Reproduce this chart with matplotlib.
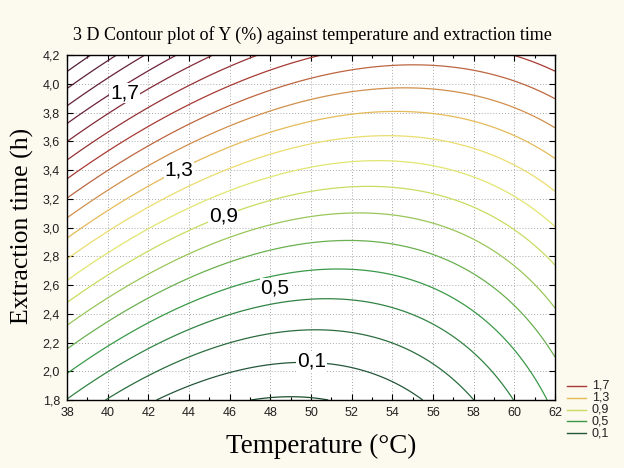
import numpy as np
import matplotlib
matplotlib.use("Agg")
import matplotlib.pyplot as plt
from matplotlib.colors import LinearSegmentedColormap, Normalize
from matplotlib.lines import Line2D
from matplotlib.ticker import MultipleLocator, FuncFormatter

# ------------------------------------------------------------------
# Response surface
#   Y = b0 + b1*T + b2*t + b11*T^2 + b22*t^2 + b12*T*t
# ------------------------------------------------------------------
b0, b1, b2 = 5.853, -0.3009, 1.0894
b11, b22, b12 = 0.0034, 0.0885, -0.01775

temp_range = [38, 62]      # Temperature (C)
time_range = [1.8, 4.2]    # Extraction time (h)

# contour levels drawn (three lines per legend step)
line_levels = [-0.0333, 0.1, 0.2333, 0.3667, 0.5, 0.6333, 0.7667, 0.9,
               1.0333, 1.1667, 1.3, 1.4333, 1.5667, 1.7, 1.8333, 1.9667,
               2.1, 2.2333, 2.3667, 2.5, 2.6333]
legend_levels = [1.7, 1.3, 0.9, 0.5, 0.1]
# where statistica put the level labels (temperature, time)
label_spots = [(40.83, 3.937), (43.51, 3.403), (45.69, 3.081), (48.23, 2.579), (50.03, 2.068)]

# colour ramp: dark green -> green -> yellow -> orange -> dark red -> maroon
ramp_levels = [-0.1, 0.1, 0.5, 0.9, 1.1, 1.3, 1.7, 2.1, 2.7]
ramp_colors = ["#1a4a2a", "#24573a", "#3a9a48", "#c8dc60", "#eeec78",
               "#e6bc58", "#a83a34", "#6e2238", "#441a3a"]

plt.rcParams['font.family'] = ['Liberation Sans', 'DejaVu Sans']

lo, hi = ramp_levels[0], ramp_levels[-1]
cmap = LinearSegmentedColormap.from_list(
    "stat", [((v - lo) / (hi - lo), c) for v, c in zip(ramp_levels, ramp_colors)])
norm = Normalize(lo, hi)

T = np.linspace(temp_range[0], temp_range[1], 300)
t = np.linspace(time_range[0], time_range[1], 300)
TT, tt = np.meshgrid(T, t)
Y = b0 + b1 * TT + b2 * tt + b11 * TT ** 2 + b22 * tt ** 2 + b12 * TT * tt

fig = plt.figure(figsize=(6.24, 4.68), dpi=100, facecolor="#fcf9ee")
ax = fig.add_axes([67 / 624, 1 - 400 / 468, 488 / 624, 345 / 468])
ax.set_facecolor("white")

ax.contour(TT, tt, Y, levels=line_levels,
           colors=[cmap(norm(v)) for v in line_levels], linewidths=0.9)

fmt = lambda v: f"{v:.1f}".replace(".", ",")
for lev, (x, y) in zip(legend_levels, label_spots):
    ax.text(x, y, fmt(lev), ha="center", va="center", fontsize=15, color="black",
            bbox=dict(facecolor="white", edgecolor="none", pad=0.5), zorder=5)

ax.set_xlim(temp_range)
ax.set_ylim(time_range)
ax.xaxis.set_major_locator(MultipleLocator(2))
ax.xaxis.set_minor_locator(MultipleLocator(1))
ax.yaxis.set_major_locator(MultipleLocator(0.2))
ax.yaxis.set_major_formatter(FuncFormatter(lambda v, p: fmt(v)))
ax.tick_params(which="both", direction="in", top=True, right=True,
               labelsize=9, labelcolor="#202020", width=0.8)
ax.tick_params(which="major", length=4, pad=5)
ax.tick_params(which="minor", length=2)
ax.grid(True, which="major", linestyle=(0, (1, 2)), color="#a8a8a8", linewidth=0.7)
ax.set_axisbelow(True)
for s in ax.spines.values():
    s.set_linewidth(1.0)
    s.set_color("black")

fig.text(0.5, 1 - 35 / 468, "3 D Contour plot of Y (%) against temperature and extraction time",
         ha="center", va="center", fontsize=13, family="Liberation Serif")
fig.text(321 / 624, 1 - 446 / 468, "Temperature (°C)", ha="center", va="center",
         fontsize=19.5, family="Liberation Serif")
fig.text(22 / 624, 1 - 226 / 468, "Extraction time (h)", ha="center", va="center",
         rotation=90, fontsize=18.5, family="Liberation Serif")

# legend drawn by hand in the bottom right corner
for i, lev in enumerate(legend_levels):
    y = 1 - (386 + i * 11.8) / 468
    fig.add_artist(Line2D([567 / 624, 586 / 624], [y, y], color=cmap(norm(lev)), lw=1.0))
    fig.text(592 / 624, y, fmt(lev), ha="left", va="center", fontsize=9, color="#202020")

fig.savefig("out.png", dpi=100, facecolor=fig.get_facecolor())
